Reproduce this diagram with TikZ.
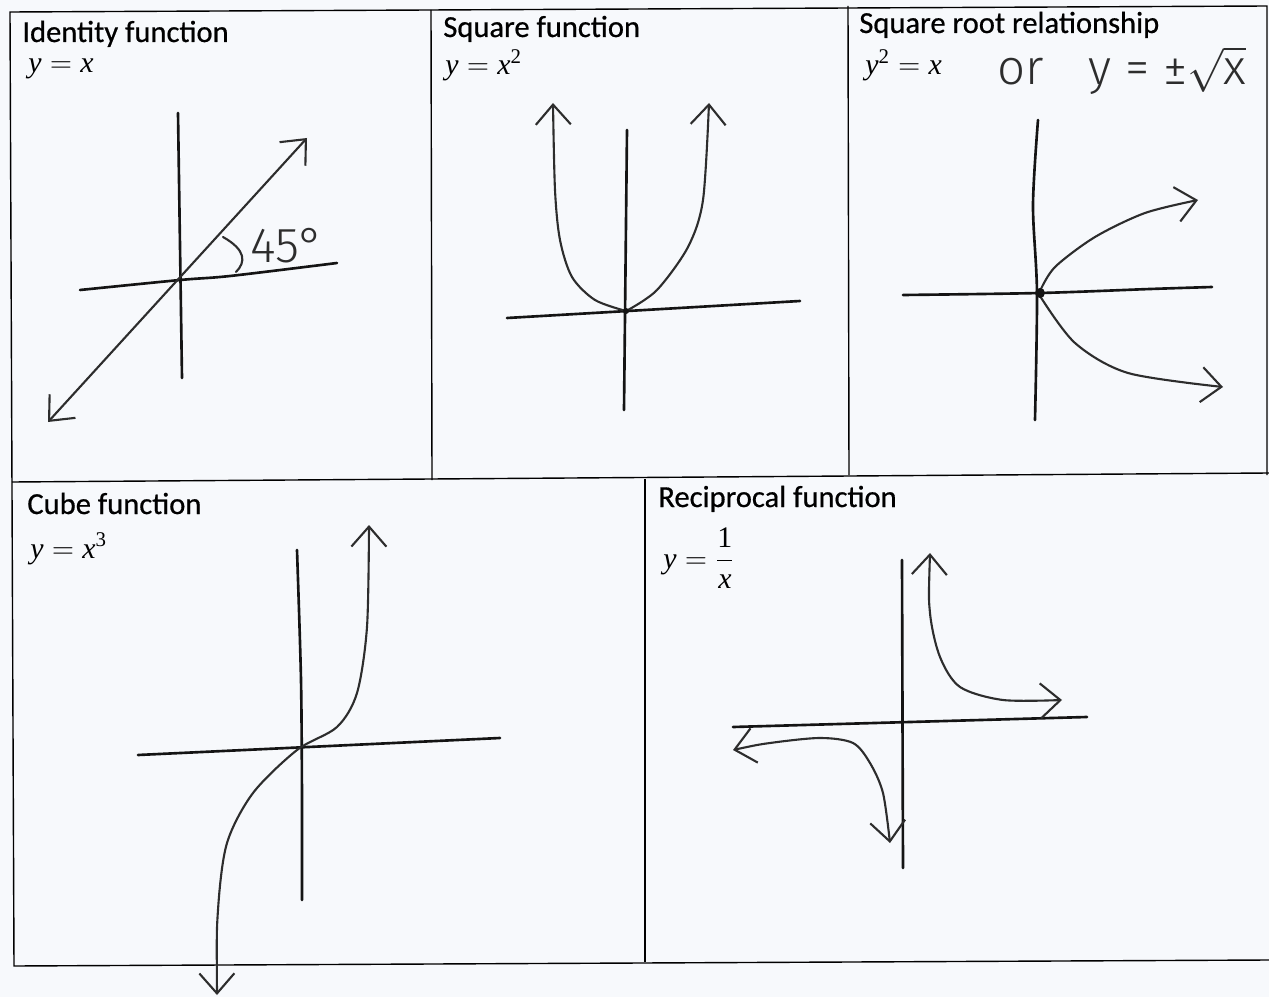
\documentclass[tikz,border=0pt]{standalone}
\usepackage{amsmath}
\usepackage{fontspec}
\setmainfont{Carlito}
\newfontfamily\headfont{Carlito}[FakeBold=0.6]
\newfontfamily\hwfont{Fira Sans Light}
\newfontfamily\tnr{Liberation Serif}
\newcommand{\mv}[1]{\text{\tnr\itshape #1}}
\newcommand{\mn}[1]{\text{\tnr #1}}
\usepackage{tikz}
\usetikzlibrary{arrows.meta}

\definecolor{paper}{RGB}{247,249,252}
\definecolor{ink}{RGB}{20,20,20}
\definecolor{pencil}{RGB}{45,45,45}

\begin{document}
\begin{tikzpicture}[x=0.02cm,y=-0.02cm,
    frameline/.style={black, line width=0.8pt},
    axisline/.style={ink, line width=1.5pt, line cap=round},
    fnline/.style={pencil, line width=1.2pt, line cap=round},
    hwarrow/.style={-{Straight Barb[length=4mm,width=7mm]}},
    hwboth/.style={{Straight Barb[length=4mm,width=7mm]}-{Straight Barb[length=4mm,width=7mm]}},
    heading/.style={anchor=base west, inner sep=0pt, font=\headfont\fontsize{17.4}{19}\selectfont},
    formula/.style={anchor=base west, inner sep=0pt, font=\fontsize{17}{19}\selectfont},
    hw/.style={anchor=base west, inner sep=0pt, pencil, font=\hwfont\fontsize{28}{30}\selectfont}]

\fill[paper] (0,0) rectangle (1269,997);
\useasboundingbox (0,0) rectangle (1269,997);

    % Draw the boxes
    \draw[frameline] (1267,475) -- (1267,6) -- (10,12) -- (14,966) -- (1269,960);
    \draw[frameline] (12,482) -- (1269,473);
    \draw[frameline] (431,10) -- (432,480);
    \draw[frameline] (848,6) -- (849,475);
    \draw[frameline] (645,479) -- (645,962);

    % Titles and equations
    \node[heading] (idtitle) at (22,42) {Identity function};
    \node[formula] (ideq) at (28,73) {$\mv{y}=\mv{x}$};
    \node[heading] (sqtitle) at (443,37) {Square function};
    \node[formula] (sqeq) at (445,75) {$\mv{y}=\mv{x}^{\mn{2}}$};
    \node[heading] (rttitle) at (859,33) {Square root relationship};
    \node[formula] (rteq) at (865,75) {$\mv{y}^{\mn{2}}=\mv{x}$};
    \node[hw] (ortext) at (997,85) {or};
    \node[hw] (rtalt) at (1088,85) {y = ±$\sqrt{\mbox{x}}$};
    \node[heading] (cutitle) at (27,514) {Cube function};
    \node[formula] (cueq) at (30,558) {$\mv{y}=\mv{x}^{\mn{3}}$};
    \node[heading] (retitle) at (658,507) {Reciprocal function};
    \node[formula] (reeq) at (663,568) {$\mv{y}=\dfrac{\mn{1}}{\mv{x}}$};

    % Draw identity graph
    \draw[axisline] (178,113) -- (182,378);
    \draw[axisline] plot[smooth] coordinates {(80,290) (180,280) (230,276) (337,263)};
    \draw[fnline, hwboth] (48,422) -- (307,138);
    \draw[fnline] (223,237) .. controls (246,250) and (246,262) .. (236,272);
    \node[hw] (deg) at (250,262) {45°};

    % Draw square graph
    \draw[axisline] (627,130) -- (624,410);
    \draw[axisline] (507,318) -- (800,301);
    \draw[fnline, hwarrow] plot[smooth] coordinates {(626,311) (595,300) (572,277) (560,240) (555,190) (553,103)};
    \draw[fnline, hwarrow] plot[smooth] coordinates {(628,310) (657,290) (688,247) (703,200) (709,103)};
    \fill[ink] (626,311) circle (3);

    % Draw square root graph
    \draw[axisline] plot[smooth] coordinates {(1038,120) (1033,205) (1037,293) (1035,420)};
    \draw[axisline] plot[smooth] coordinates {(903,295) (1040,293) (1150,289) (1212,287)};
    \draw[fnline, hwarrow] plot[smooth] coordinates {(1040,291) (1055,267) (1095,237) (1145,213) (1198,200)};
    \draw[fnline, hwarrow] plot[smooth] coordinates {(1040,296) (1075,343) (1128,373) (1223,387)};
    \fill[ink] (1040,293) circle (5);

    % Draw cube graph
    \draw[axisline] plot[smooth] coordinates {(297,550) (301,680) (302,800) (302,900)};
    \draw[axisline] (138,755) -- (500,738);
    \draw[fnline, hwboth] plot[smooth] coordinates {(217,995) (218,910) (227,843) (253,793) (297,750) (337,727) (357,693) (367,627) (369,525)};

    % Draw reciprocal graph
    \draw[axisline] (902,560) -- (903,868);
    \draw[axisline] (733,727) -- (1087,717);
    \draw[fnline, hwboth] plot[smooth] coordinates {(930,553) (930,613) (940,657) (960,687) (1003,700) (1062,700)};
    \draw[fnline, hwboth] plot[smooth] coordinates {(733,750) (770,743) (820,738) (853,743) (870,763) (883,793) (890,843)};

\end{tikzpicture}
\end{document}
